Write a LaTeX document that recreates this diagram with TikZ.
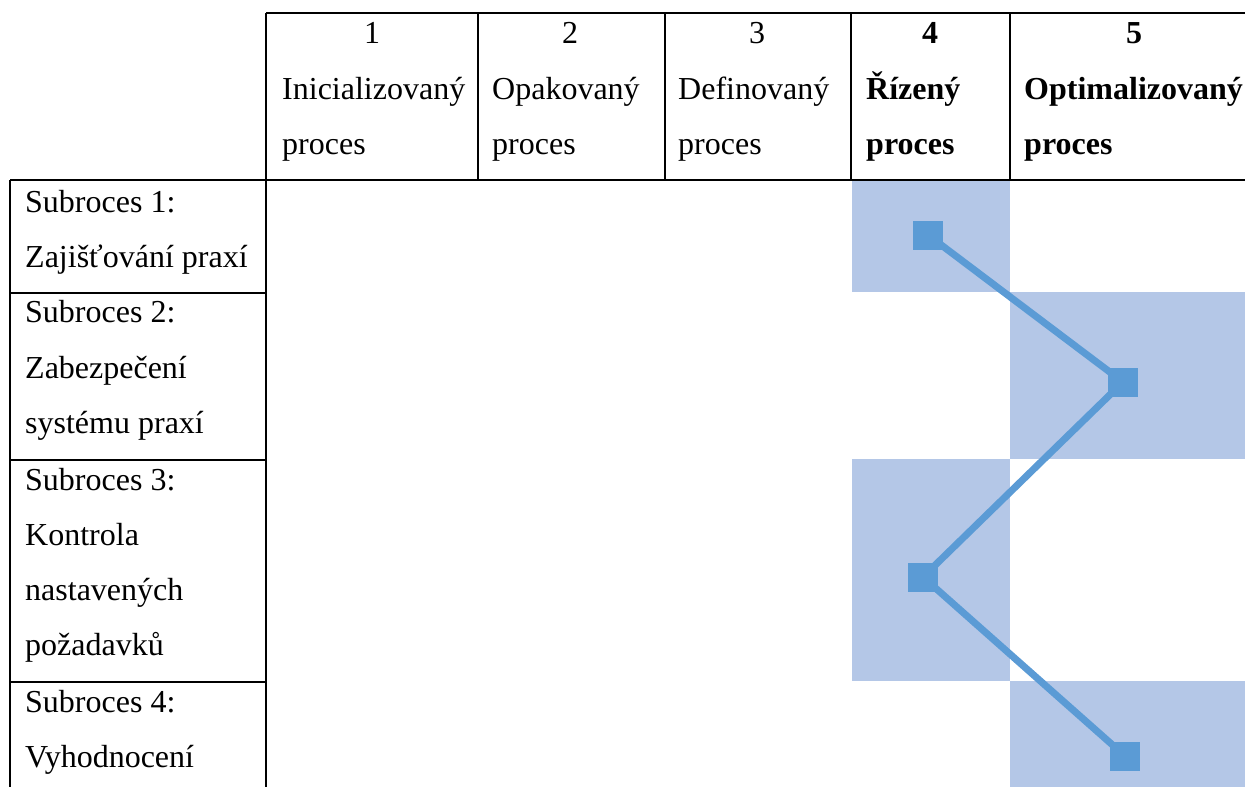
\documentclass[tikz,border=0pt]{standalone}
\usepackage{fontspec}
\setmainfont{Liberation Serif}
\begin{document}
\begin{tikzpicture}[x=1pt,y=-1pt,
  grid/.style={line width=2.2pt,black},
  lbl/.style={anchor=base west,inner sep=0pt,font=\fontsize{32}{38}\selectfont},
  num/.style={anchor=base,inner sep=0pt,font=\fontsize{32}{38}\selectfont},
  marker/.style={rectangle,fill=lvlline,draw=none,minimum width=30pt,minimum height=29pt,inner sep=0pt},
  path/.style={draw=lvlline,line width=7pt}]
\definecolor{lvlfill}{HTML}{B4C7E7}
\definecolor{lvlline}{HTML}{5B9BD5}
\useasboundingbox (0,0) rectangle (1245,787);
\fill[white] (0,0) rectangle (1245,787);

% maturity level reached by each subprocess
\fill[lvlfill] (852,180) rectangle (1010,292);
\fill[lvlfill] (1010,292) rectangle (1245,459);
\fill[lvlfill] (852,459) rectangle (1010,681);
\fill[lvlfill] (1010,681) rectangle (1245,787);

% table rules
\draw[grid] (266,13) -- (1245,13);
\draw[grid] (10,180) -- (1245,180);
\draw[grid] (266,13) -- (266,787);
\foreach \x in {478,665,851,1010} \draw[grid] (\x,13) -- (\x,180);
\draw[grid] (10,180) -- (10,787);
\foreach \y in {293,460,682} \draw[grid] (10,\y) -- (266,\y);

% column headings
\node[num] (n1) at (372,43) {1};
\node[lbl] (c1a) at (282,99) {Inicializovaný};
\node[lbl] (c1b) at (282,154) {proces};
\node[num] (n2) at (570,43) {2};
\node[lbl] (c2a) at (492,99) {Opakovaný};
\node[lbl] (c2b) at (492,154) {proces};
\node[num] (n3) at (757,43) {3};
\node[lbl] (c3a) at (678,99) {Definovaný};
\node[lbl] (c3b) at (678,154) {proces};
\node[num] (n4) at (930,43) {\bfseries 4};
\node[lbl] (c4a) at (866,99) {\bfseries Řízený};
\node[lbl] (c4b) at (866,154) {\bfseries proces};
\node[num] (n5) at (1134,43) {\bfseries 5};
\node[lbl] (c5a) at (1024,99) {\bfseries Optimalizovaný};
\node[lbl] (c5b) at (1024,154) {\bfseries proces};

% row headings
\node[lbl] (r1a) at (25,212) {Subroces 1:};
\node[lbl] (r1b) at (25,267) {Zajišťování praxí};
\node[lbl] (r2a) at (25,322) {Subroces 2:};
\node[lbl] (r2b) at (25,378) {Zabezpečení};
\node[lbl] (r2c) at (25,433) {systému praxí};
\node[lbl] (r3a) at (25,490) {Subroces 3:};
\node[lbl] (r3b) at (25,545) {Kontrola};
\node[lbl] (r3c) at (25,600) {nastavených};
\node[lbl] (r3d) at (25,655) {požadavků};
\node[lbl] (r4a) at (25,712) {Subroces 4:};
\node[lbl] (r4b) at (25,767) {Vyhodnocení};

% profile line with level markers
\coordinate (p1) at (928,235);
\coordinate (p2) at (1123,382);
\coordinate (p3) at (923,577);
\coordinate (p4) at (1125,756);
\draw[path] (p1) -- (p2) -- (p3) -- (p4);
\node[marker] (m1) at (p1) {};
\node[marker] (m2) at (p2) {};
\node[marker] (m3) at (p3) {};
\node[marker] (m4) at (p4) {};
\end{tikzpicture}
\end{document}
